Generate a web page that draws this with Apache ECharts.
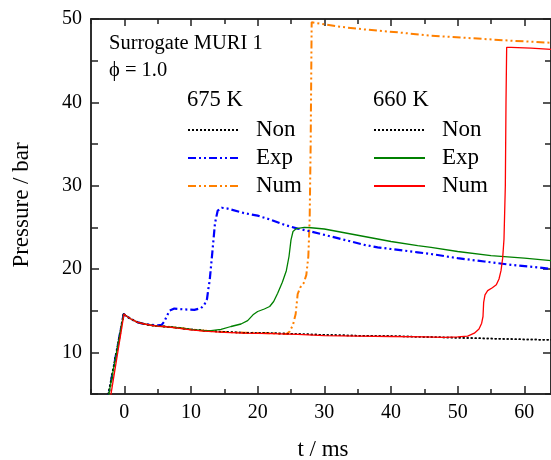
<!DOCTYPE html>
<html><head><meta charset="utf-8">
<script src="https://cdn.jsdelivr.net/npm/echarts@6/dist/echarts.min.js"></script>
<style>html,body{margin:0;padding:0;background:#fff}#c{width:551px;height:460px}</style>
</head><body><div id="c"></div>
<script>
// ---- data: [t (ms), pressure (bar)] ----
var xMajorTicks = [0, 10, 20, 30, 40, 50, 60];
var xMinorTicks = [-5, 5, 15, 25, 35, 45, 55];
var yMajorTicks = [10, 20, 30, 40, 50];
var yMinorTicks = [5, 15, 25, 35, 45];

var non675 = [[-2.65,4],[-0.1,14.6],[0,14.75],[0.4,14.3],[1,14.0],[2,13.6],[3,13.4],[4,13.25],[5,13.15],[6,13.1],[8,12.95],[10,12.75],[12,12.6],[15,12.45],[18,12.35],[22,12.3],[26,12.2],[30,12.1],[35,12.0],[40,11.95],[45,11.85],[50,11.75],[55,11.65],[60,11.55],[64,11.5]];
var exp675 = [[-2.6,4],[-0.1,14.6],[0,14.75],[0.4,14.3],[1,14.0],[2,13.6],[3,13.4],[4,13.3],[5,13.25],[5.6,13.3],[6.0,13.7],[6.4,14.4],[6.8,15.0],[7.5,15.25],[9,15.15],[10.5,15.1],[11.5,15.3],[12.0,15.7],[12.4,16.4],[12.6,17.6],[12.8,18.6],[13.2,22],[13.6,25.5],[14.0,27.0],[14.6,27.35],[15.5,27.25],[18,26.7],[20,26.4],[22,25.9],[24,25.3],[26,24.85],[28,24.5],[30,24.1],[32,23.7],[34,23.3],[36,22.9],[38,22.6],[40,22.4],[42,22.2],[44,22.0],[46,21.8],[50,21.3],[54,20.9],[58,20.5],[62,20.2],[64,20.0]];
var num675 = [[-2.5,4],[-0.1,14.6],[0,14.75],[0.4,14.3],[1,14.0],[2,13.6],[3,13.4],[4,13.25],[5,13.15],[6,13.1],[8,12.95],[10,12.75],[12,12.6],[15,12.45],[18,12.35],[22,12.3],[24.3,12.2],[24.8,12.5],[25.3,13.3],[25.7,14.6],[26.0,17.0],[26.4,17.8],[26.9,18.3],[27.3,19.3],[27.6,21.5],[27.8,26],[27.95,35],[28.1,49.6],[32,49.1],[36,48.75],[41,48.4],[46,48.0],[52,47.7],[58,47.4],[64,47.15]];
var non660 = [[-2.6,4],[-0.1,14.6],[0,14.75],[0.4,14.3],[1,14.0],[2,13.6],[3,13.4],[4,13.25],[5,13.15],[6,13.1],[8,12.95],[10,12.75],[12,12.6],[15,12.45],[18,12.35],[22,12.3],[26,12.2],[30,12.1],[35,12.0],[40,11.95],[45,11.85],[50,11.75],[55,11.65],[60,11.55],[64,11.5]];
var exp660 = [[-2.55,4],[-0.1,14.6],[0,14.75],[0.4,14.3],[1,14.0],[2,13.6],[3,13.4],[4,13.25],[5,13.15],[6,13.1],[8,12.95],[10,12.75],[12,12.6],[13,12.6],[14.5,12.75],[16,13.1],[17.5,13.4],[18.5,13.8],[19.3,14.5],[20,14.9],[21,15.2],[21.8,15.5],[22.4,16.1],[23,17.1],[23.7,18.4],[24.3,19.8],[24.7,21.5],[25.0,23.5],[25.3,24.5],[25.8,24.85],[27,25.0],[28,24.95],[30,24.8],[32,24.5],[34,24.2],[36,23.9],[40,23.3],[44,22.8],[46,22.6],[50,22.1],[55,21.6],[60,21.3],[64,21.0]];
var num660 = [[-2.2,4],[-0.05,14.6],[0,14.7],[0.4,14.3],[1,14.0],[2,13.6],[3,13.4],[4,13.25],[5,13.15],[6,13.1],[8,12.9],[10,12.7],[12,12.55],[15,12.4],[18,12.3],[22,12.25],[26,12.15],[30,12.0],[35,11.95],[40,11.9],[45,11.85],[48,11.8],[50,11.85],[51.5,11.95],[52.5,12.3],[53.2,12.8],[53.6,13.5],[53.8,14.3],[53.9,16.0],[54.1,16.9],[54.5,17.4],[55.2,17.75],[55.8,18.1],[56.2,18.8],[56.5,19.8],[56.75,21.3],[56.95,23.6],[57.15,30],[57.25,40],[57.35,46.6],[58,46.6],[61,46.5],[64,46.35]];

var FONT = 'Liberation Serif';
var AX = '#222';
function xAxisDef(pos, ticks, len, labels) {
  return {
    type: 'value', position: pos, min: -5, max: 64, interval: 5,
    axisLine: {show: true, onZero: false, lineStyle: {color: AX, width: 1.5}},
    axisTick: {show: true, inside: true, length: len, customValues: ticks, lineStyle: {color: AX, width: 1.5}},
    axisLabel: labels ? {show: true, customValues: xMajorTicks, margin: 9, fontFamily: FONT, fontSize: 20, color: '#000'} : {show: false},
    splitLine: {show: false}
  };
}
function yAxisDef(pos, ticks, len, labels) {
  return {
    type: 'value', position: pos, min: 5, max: 50, interval: 5,
    axisLine: {show: true, onZero: false, lineStyle: {color: AX, width: 1.5}},
    axisTick: {show: true, inside: true, length: len, customValues: ticks, lineStyle: {color: AX, width: 1.5}},
    axisLabel: labels ? {show: true, customValues: yMajorTicks, margin: 9, fontFamily: FONT, fontSize: 20, color: '#000'} : {show: false},
    splitLine: {show: false}
  };
}
function line(name, data, color, width, dash, z) {
  return {
    name: name, type: 'line', data: data, showSymbol: false, symbol: 'none',
    xAxisIndex: 0, yAxisIndex: 0, clip: true, z: z, animation: false,
    lineStyle: {color: color, width: width, type: dash}, itemStyle: {color: color}
  };
}
var dashDot = [8, 3, 2, 3, 2, 3];
var chart = echarts.init(document.getElementById('c'), null, {renderer: 'canvas'});
var legendCommon = {
  orient: 'vertical', itemWidth: 51, itemHeight: 14, itemGap: 0, padding: 0,
  selectedMode: false,
  itemStyle: {opacity: 0},
  formatter: function (n) { return n.split(' ')[0]; },
  textStyle: {fontFamily: FONT, fontSize: 23, color: '#000', lineHeight: 28, padding: [0, 0, 0, 12]}
};
chart.setOption({
  animation: false,
  grid: {left: 91, right: 0, top: 19, bottom: 66, containLabel: false},
  xAxis: [
    xAxisDef('bottom', xMajorTicks, 8, true),
    xAxisDef('bottom', xMinorTicks, 5, false),
    xAxisDef('top', xMajorTicks, 7, false),
    xAxisDef('top', xMinorTicks, 5, false)
  ],
  yAxis: [
    yAxisDef('left', yMajorTicks, 8, true),
    yAxisDef('left', yMinorTicks, 7, false),
    yAxisDef('right', yMajorTicks, 8, false),
    yAxisDef('right', yMinorTicks, 6, false)
  ],
  legend: [
    Object.assign({left: 187, top: 116, data: ['Non 675', 'Exp 675', 'Num 675']}, legendCommon),
    Object.assign({left: 373, top: 116, data: ['Non 660', 'Exp 660', 'Num 660']}, legendCommon)
  ],
  series: [
    line('Num 675', num675, '#ff8000', 2, dashDot, 2),
    line('Exp 675', exp675, '#0000ff', 2.2, dashDot, 3),
    line('Non 675', non675, '#000000', 1.5, [2, 2], 4),
    line('Non 660', non660, '#000000', 1.5, [2, 2], 4),
    line('Exp 660', exp660, '#008000', 1.3, 'solid', 5),
    line('Num 660', num660, '#ff0000', 1.3, 'solid', 5)
  ],
  graphic: [
    {type: 'text', left: 109, top: 33, style: {text: 'Surrogate MURI 1', font: '20.5px "Liberation Serif"', fill: '#000'}},
    {type: 'text', left: 109, top: 60, style: {text: 'ϕ = 1.0', font: '20.5px "Liberation Serif"', fill: '#000'}},
    {type: 'text', left: 187, top: 89, style: {text: '675 K', font: '22.5px "Liberation Serif"', fill: '#000'}},
    {type: 'text', left: 373, top: 89, style: {text: '660 K', font: '22.5px "Liberation Serif"', fill: '#000'}},
    {type: 'text', x: 22, y: 205, rotation: Math.PI / 2, style: {text: 'Pressure / bar', font: '23px "Liberation Serif"', fill: '#000', align: 'center', verticalAlign: 'middle'}},
    {type: 'text', x: 323, y: 450, style: {text: 't / ms', font: '23px "Liberation Serif"', fill: '#000', align: 'center', verticalAlign: 'middle'}}
  ]
});
</script></body></html>
